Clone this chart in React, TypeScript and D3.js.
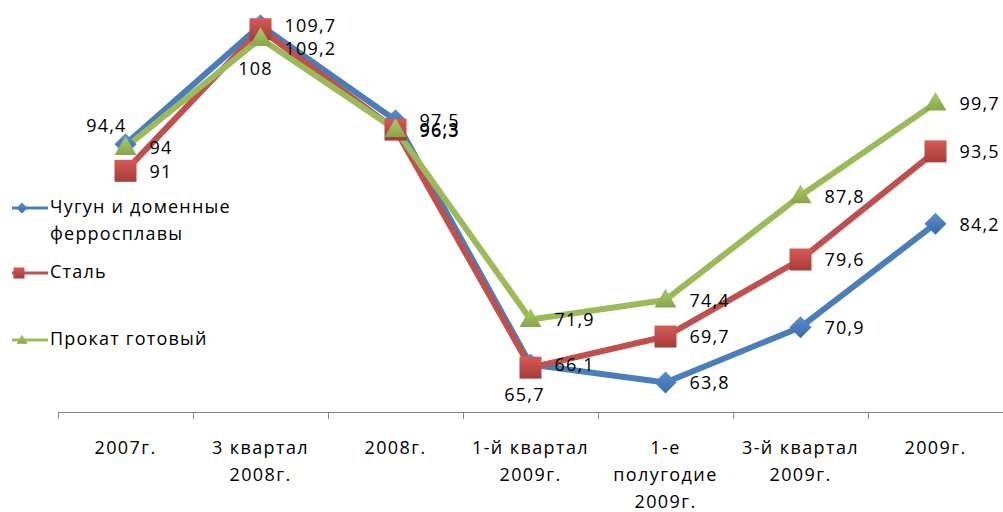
import * as d3 from "d3";

const categories = [
  ["2007г."],
  ["3 квартал", "2008г."],
  ["2008г."],
  ["1-й квартал", "2009г."],
  ["1-е", "полугодие", "2009г."],
  ["3-й квартал", "2009г."],
  ["2009г."],
];

const seriesNames = ["Чугун и доменные ферросплавы", "Сталь", "Прокат готовый"];
const pigIron = [94.4, 109.7, 97.5, 66.1, 63.8, 70.9, 84.2];
const steel = [91, 109.2, 96.3, 65.7, 69.7, 79.6, 93.5];
const rolled = [94, 108, 96.3, 71.9, 74.4, 87.8, 99.7];

const W = 1003;
const H = 512;
const FONT = "'Open Sans', 'DejaVu Sans', sans-serif";

const colors = ["#4a7ebb", "#c0504d", "#9bbb59"];
const markerKinds = ["diamond", "square", "triangle"];

// label nudges: [series]-[category] -> [dx, dy, anchor]
const labelNudge: Record<string, [number, number, string]> = {
  "0-0": [1, -17, "end"],
  "1-1": [24, 21, "start"],
  "1-2": [24, 3, "start"],
  "1-3": [-6, 29, "middle"],
  "2-1": [-5, 32, "middle"],
};

function Marker({ kind, x, y, size, fill }: { kind: string; x: number; y: number; size: number; fill: string }) {
  const h = size / 2;
  if (kind === "diamond") {
    return <path d={`M${x},${y - h}L${x + h},${y}L${x},${y + h}L${x - h},${y}Z`} fill={fill} />;
  }
  if (kind === "square") {
    return <rect x={x - h} y={y - h} width={size} height={size} fill={fill} />;
  }
  const th = size * 0.85;
  return <path d={`M${x},${y - th * 0.6}L${x + h},${y + th * 0.4}L${x - h},${y + th * 0.4}Z`} fill={fill} />;
}

export default function App() {
  const series = [pigIron, steel, rolled];
  const x = d3.scaleBand<number>().domain(d3.range(categories.length)).range([58, 1003]);
  const y = d3.scaleLinear().domain([60, 110]).range([412, 23]);
  const cx = (i: number) => (x(i) as number) + x.bandwidth() / 2;

  const line = d3
    .line<number>()
    .x((_, i) => cx(i))
    .y((d) => y(d));

  const ticks = d3.range(categories.length + 1).map((i) => 58 + i * x.bandwidth());

  const legendY = [[208, 235], [273], [340]];
  const legendLabels = [["Чугун и доменные", "ферросплавы"], [seriesNames[1]], [seriesNames[2]]];

  return (
    <svg width={W} height={H} style={{ position: "absolute", left: 0, top: 0, background: "#fff" }} fontFamily={FONT}>
      <defs>
        <linearGradient id="g0" x1="0" y1="0" x2="0" y2="1">
          <stop offset="0" stopColor="#5b8fd0" />
          <stop offset="1" stopColor="#3a6aa8" />
        </linearGradient>
        <linearGradient id="g1" x1="0" y1="0" x2="0" y2="1">
          <stop offset="0" stopColor="#d65a57" />
          <stop offset="1" stopColor="#a53c39" />
        </linearGradient>
        <linearGradient id="g2" x1="0" y1="0" x2="0" y2="1">
          <stop offset="0" stopColor="#aacb6a" />
          <stop offset="1" stopColor="#86a64a" />
        </linearGradient>
      </defs>

      {/* x axis */}
      <line x1={58} x2={1003} y1={412.5} y2={412.5} stroke="#868686" strokeWidth={1} />
      {ticks.map((t, i) => (
        <line key={i} x1={Math.round(t) + 0.5} x2={Math.round(t) + 0.5} y1={412} y2={419} stroke="#868686" />
      ))}
      {categories.map((lines, i) => (
        <text key={i} x={cx(i)} textAnchor="middle" fontSize={18} letterSpacing={1.4} fill="#000">
          {lines.map((l, j) => (
            <tspan key={j} x={cx(i)} y={449 + j * 27} dominantBaseline="middle">
              {l}
            </tspan>
          ))}
        </text>
      ))}

      {/* lines */}
      {series.map((s, k) => (
        <path key={k} d={line(s) ?? ""} fill="none" stroke={colors[k]} strokeWidth={6} strokeLinejoin="round" />
      ))}
      {series.map((s, k) =>
        s.map((v, i) => (
          <Marker key={`${k}-${i}`} kind={markerKinds[k]} x={cx(i)} y={y(v)} size={22} fill={`url(#g${k})`} />
        ))
      )}

      {/* data labels */}
      {series.map((s, k) =>
        s.map((v, i) => {
          const [dx, dy, anchor] = labelNudge[`${k}-${i}`] ?? [24, 2, "start"];
          return (
            <text
              key={`l${k}-${i}`}
              x={cx(i) + dx}
              y={y(v) + dy}
              textAnchor={anchor as any}
              dominantBaseline="middle"
              fontSize={18}
              letterSpacing={1.2}
              fill="#000"
            >
              {String(v).replace(".", ",")}
            </text>
          );
        })
      )}

      {/* legend */}
      {legendY.map((ys, k) => (
        <g key={k}>
          <line x1={12} x2={48} y1={ys[0]} y2={ys[0]} stroke={colors[k]} strokeWidth={3} />
          <Marker kind={markerKinds[k]} x={k === 1 ? 19 : 22} y={ys[0]} size={11} fill={`url(#g${k})`} />
          {legendLabels[k].map((t, j) => (
            <text key={j} x={50} y={ys[j]} dominantBaseline="middle" fontSize={18} letterSpacing={1.2} fill="#000">
              {t}
            </text>
          ))}
        </g>
      ))}
    </svg>
  );
}
